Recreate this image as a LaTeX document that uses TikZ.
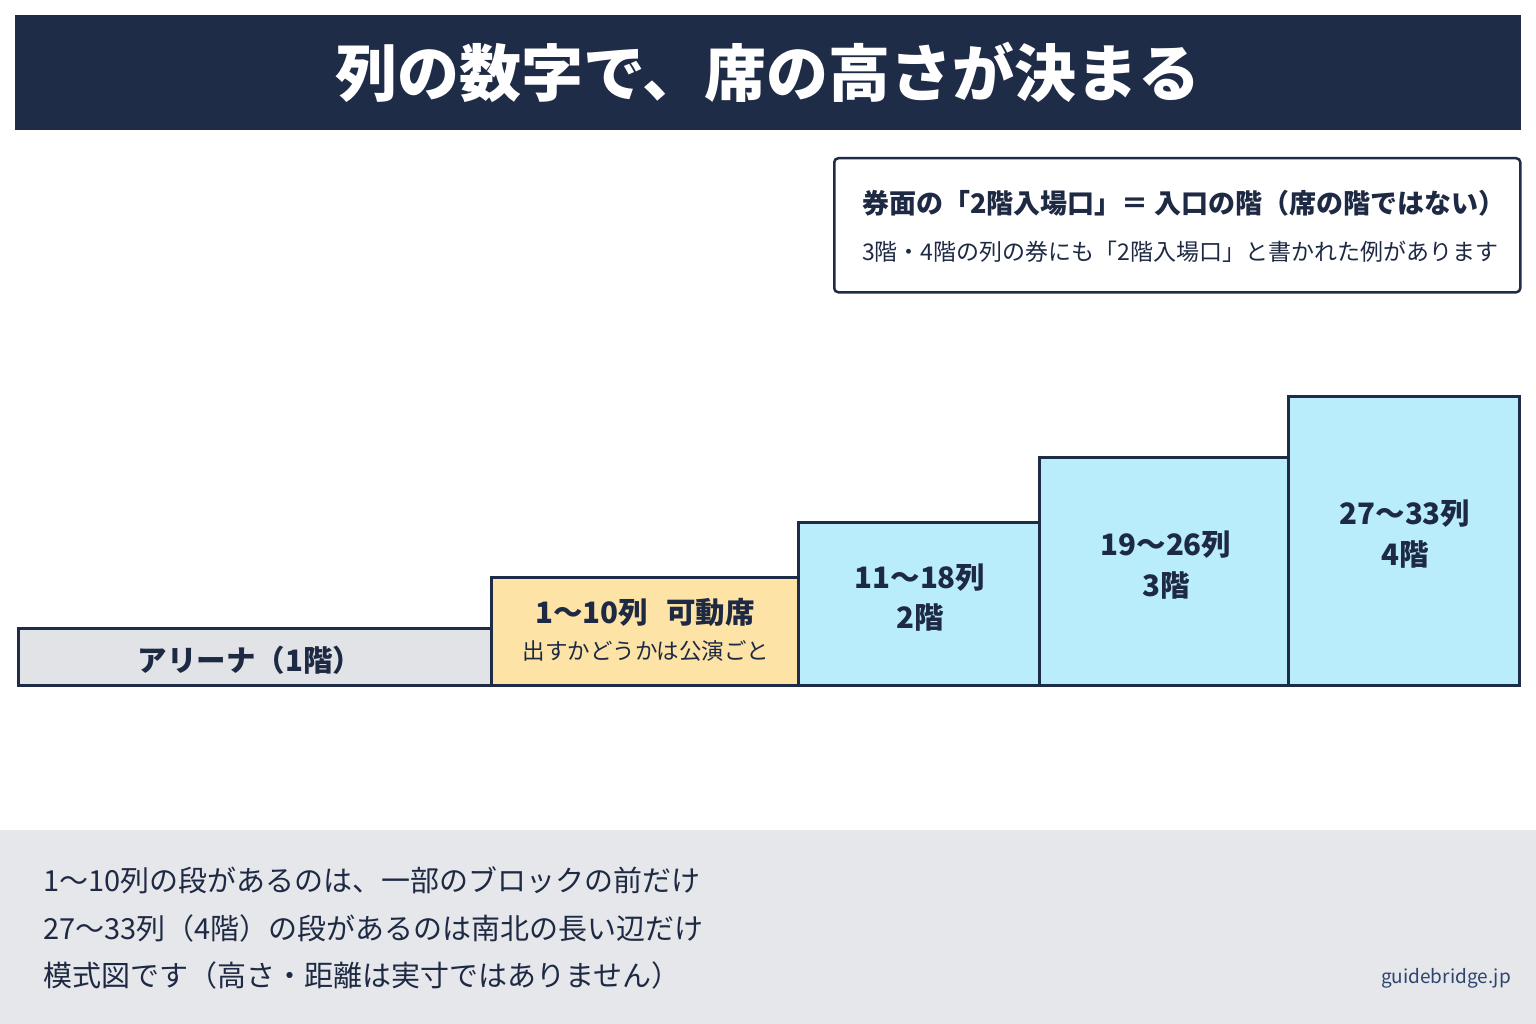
\documentclass[tikz,border=0pt]{standalone}
\usepackage{fontspec}
\setmainfont{Noto Sans CJK JP}
\definecolor{navy}{HTML}{1F2C47}
\definecolor{txt}{HTML}{1E2A44}
\definecolor{cyanfill}{HTML}{B9EDFB}
\definecolor{yelfill}{HTML}{FDE3A5}
\definecolor{grayfill}{HTML}{E1E3E7}
\definecolor{band}{HTML}{E6E7EA}
\definecolor{url}{HTML}{2E4470}
\tikzset{
  block/.style={draw=navy, line width=3pt, anchor=north west, inner sep=0pt, outer sep=0pt},
  blabel/.style={text=txt, font=\bfseries\fontsize{29.5}{34}\selectfont, align=center, inner sep=0pt},
  note/.style={text=txt, font=\fontsize{29}{34}\selectfont, anchor=west, inner sep=0pt},
}
\begin{document}
\begin{tikzpicture}[x=1pt,y=-1pt]
\useasboundingbox (0,0) rectangle (1536,1024);
\fill[white] (0,0) rectangle (1536,1024);
% title bar
\node[fill=navy, minimum width=1506pt, minimum height=115pt, inner sep=0pt, text=white,
  font=\bfseries\fontsize{62}{68}\selectfont] (title) at (768,72.5) {列の数字で、席の高さが決まる};
% callout
\node[draw=navy, line width=2.5pt, rounded corners=4pt, fill=white, anchor=north west,
  minimum width=686pt, minimum height=134pt, inner sep=0pt] (callout) at (833,157) {};
\node[text=txt, font=\bfseries\fontsize{27}{32}\selectfont, anchor=west, inner sep=0pt] (c1) at (862,203)
  {券面の「2階入場口」＝ 入口の階（席の階ではない）};
\node[text=txt, font=\fontsize{23}{28}\selectfont, anchor=west, inner sep=0pt] (c2) at (862,252)
  {3階・4階の列の券にも「2階入場口」と書かれた例があります};
% blocks
\node[block, fill=grayfill, minimum width=473pt, minimum height=57pt] (arena) at (18,628) {};
\node[block, fill=yelfill, minimum width=307pt, minimum height=108pt] (mov) at (491,577) {};
\node[block, fill=cyanfill, minimum width=241pt, minimum height=163pt] (f2) at (798,522) {};
\node[block, fill=cyanfill, minimum width=249pt, minimum height=228pt] (f3) at (1039,457) {};
\node[block, fill=cyanfill, minimum width=231pt, minimum height=289pt] (f4) at (1288,396) {};
\node[blabel] (arenat) at (250,660) {アリーナ（1階）};
\node[blabel] (movt) at (645,612) {1〜10列\hspace{0.6em}可動席};
\node[text=txt, font=\fontsize{22.5}{26}\selectfont, inner sep=0pt] (movs) at (646,651) {出すかどうかは公演ごと};
\node[blabel] (f2a) at (920,578) {11〜18列};
\node[blabel] (f2b) at (920,618) {2階};
\node[blabel] (f3a) at (1166,545) {19〜26列};
\node[blabel] (f3b) at (1166,586) {3階};
\node[blabel] (f4a) at (1405,514) {27〜33列};
\node[blabel] (f4b) at (1405,555) {4階};
% bottom band
\fill[band] (0,830) rectangle (1536,1024);
\node[note] (n1) at (43,880) {1〜10列の段があるのは、一部のブロックの前だけ};
\node[note] (n2) at (43,928) {27〜33列（4階）の段があるのは南北の長い辺だけ};
\node[note] (n3) at (43,975) {模式図です（高さ・距離は実寸ではありません）};
\node[text=url, font=\fontsize{19}{22}\selectfont, inner sep=0pt] (url) at (1446,978) {guidebridge.jp};
\end{tikzpicture}
\end{document}
